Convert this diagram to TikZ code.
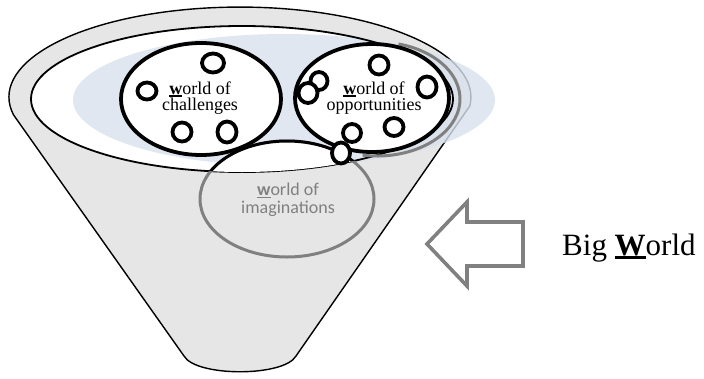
\documentclass[tikz,border=0pt]{standalone}
\usepackage{fontspec}
\setmainfont{Liberation Serif}
\newfontfamily\calibfont{Carlito}
\newcommand\ulw[3]{\setbox0\hbox{#1}\rlap{\rule[-#2]{\wd0}{#3}}\box0}
\definecolor{fungray}{HTML}{E6E6E6}
\definecolor{glowblue}{HTML}{DAE2EE}
\definecolor{midgray}{HTML}{808080}
\begin{document}
\begin{tikzpicture}[x=1pt,y=-1pt,
  rimline/.style={draw=black, line width=1.4pt},
  bigring/.style={draw=black, line width=3.8pt, fill=white},
  dotring/.style={draw=black, line width=3.8pt, fill=white},
  imagring/.style={draw=midgray, line width=3pt},
  serlbl/.style={align=center, inner sep=0pt, font=\fontsize{18}{16.5}\selectfont},
  sanslbl/.style={align=center, inner sep=0pt, text=midgray, font=\calibfont\fontsize{18}{18}\selectfont},
  bigarrow/.style={draw=midgray, line width=3.6pt, fill=white, line join=miter}
]
\useasboundingbox (0,0) rectangle (704,378);
\fill[white] (0,0) rectangle (704,378);

% funnel body with outer rim
\path[rimline, fill=fungray]
  (13.6,115) arc[start angle=191.5, end angle=-5.7, x radius=231pt, y radius=90pt]
  -- (296,356) .. controls (284,377) and (196,377) .. (184,356) -- cycle;

% inner mouth
\fill[white] (242,99) ellipse [x radius=211pt, y radius=73pt];
% blue glow
\fill[glowblue, opacity=0.8] (284,100) ellipse [x radius=211pt, y radius=66pt];
\draw[draw=black, line width=1.8pt] (242,99) ellipse [x radius=211pt, y radius=73pt];

% world of imaginations ring
\draw[imagring] (287,199) ellipse [x radius=87pt, y radius=58pt];
\begin{scope}
  \clip (242,99) ellipse [x radius=211pt, y radius=73pt];
  \fill[white] (287,199) ellipse [x radius=87pt, y radius=58pt];
  \draw[draw=black, line width=3pt] (287,199) ellipse [x radius=87pt, y radius=58pt];
\end{scope}

% gray shadow arc around opportunities
\draw[draw=midgray, line width=3pt] (377,99) ++(75:83pt and 57pt)
  arc[start angle=75, end angle=-100, x radius=83pt, y radius=57pt];

% big rings
\draw[bigring] (201,99) ellipse [x radius=80pt, y radius=56pt];
\draw[bigring] (372,98) ellipse [x radius=77pt, y radius=54pt];

% small rings: challenges
\draw[dotring] (213,63) ellipse [x radius=11pt, y radius=9.5pt];
\draw[dotring] (147,91) ellipse [x radius=9.5pt, y radius=8.5pt];
\draw[dotring] (182,132) ellipse [x radius=9.5pt, y radius=9.5pt];
\draw[dotring] (227,132) ellipse [x radius=9.5pt, y radius=10.5pt];
% small rings: opportunities
\draw[dotring] (379,65) ellipse [x radius=9.5pt, y radius=9.5pt];
\draw[dotring] (319,81) ellipse [x radius=8.5pt, y radius=9pt];
\draw[dotring] (308,93) ellipse [x radius=9.5pt, y radius=10pt];
\draw[dotring] (427,87) ellipse [x radius=9.5pt, y radius=10.5pt];
\draw[dotring] (394,127) ellipse [x radius=9.5pt, y radius=9pt];
\draw[dotring] (352,133) ellipse [x radius=9pt, y radius=9pt];
\draw[dotring] (341,153) ellipse [x radius=9pt, y radius=10.5pt];

% labels
\node[serlbl] (chal) at (200,98) {\ulw{\textbf{w}}{2.5pt}{1.6pt}orld of\\challenges};
\node[serlbl] (opp) at (374,98) {\ulw{\textbf{w}}{2.5pt}{1.6pt}orld of\\opportunities};
\node[sanslbl] (imag) at (288,200) {\ulw{\textbf{w}}{2.5pt}{1.6pt}orld of\\imaginations};

% arrow
\draw[bigarrow] (427,244) -- (467,202) -- (467,222) -- (523,222) -- (523,266)
  -- (467,266) -- (467,286) -- cycle;

\node[anchor=base west, inner sep=0pt, font=\fontsize{31}{31}\selectfont] (big) at (562,255)
  {Big \ulw{\textbf{W}}{4pt}{3.5pt}orld};
\end{tikzpicture}
\end{document}
